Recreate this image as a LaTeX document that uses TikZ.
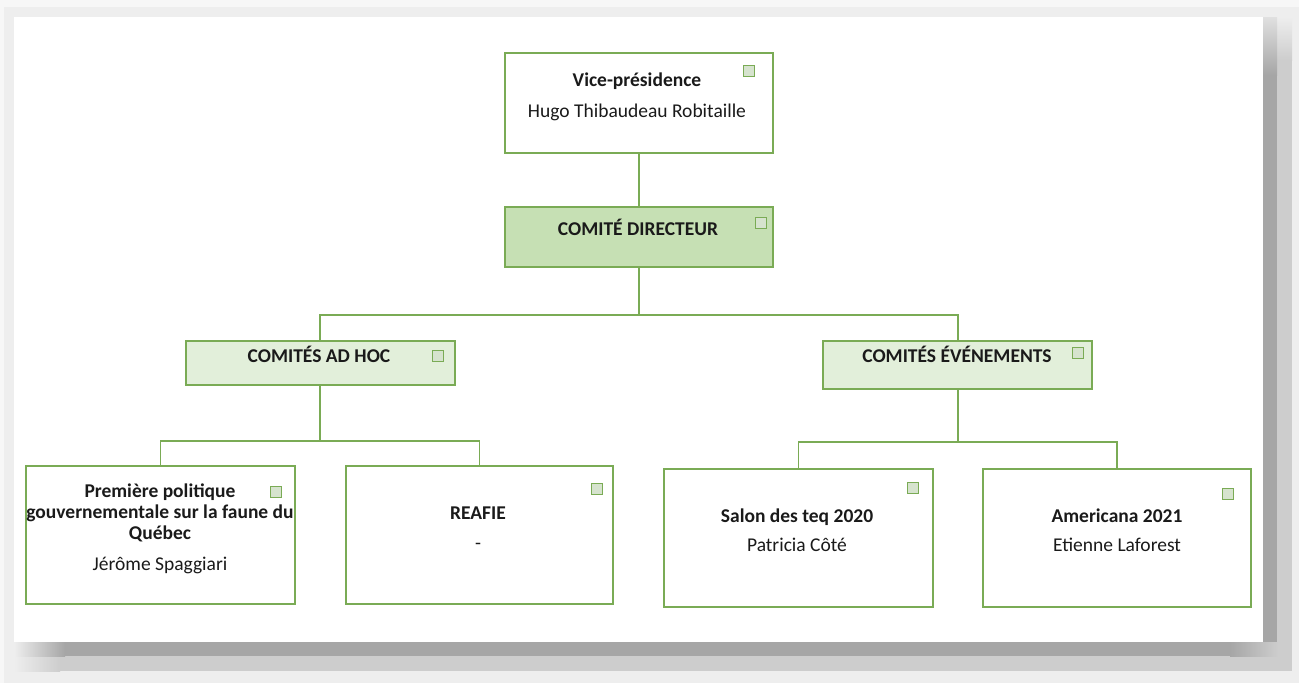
\documentclass[tikz,border=0pt]{standalone}
\usepackage{fontspec}
\setmainfont{Carlito}
\definecolor{gline}{HTML}{7AAB55}
\definecolor{gdark}{HTML}{C6E0B4}
\definecolor{glight}{HTML}{E2EFDA}
\definecolor{gsq}{HTML}{D6E3CE}
\definecolor{txt}{HTML}{1A1A1A}
\definecolor{sA}{HTML}{A6A6A6}
\definecolor{sB}{HTML}{CDCDCD}
\definecolor{sC}{HTML}{EEEEEE}
\definecolor{sD}{HTML}{F7F7F7}
\begin{document}
\begin{tikzpicture}[x=1pt,y=-1pt,
  box/.style={draw=gline,line width=1.3pt,inner sep=0pt,outer sep=0pt,anchor=north west},
  sq/.style={draw=gline,line width=1pt,fill=gsq,minimum size=11pt,inner sep=0pt,anchor=north west},
  conn/.style={draw=gline,line width=1.6pt},
  lbl/.style={text=txt,font=\fontsize{19.5}{21}\selectfont,align=center,inner sep=0pt,anchor=base},
  ttl/.style={lbl,font=\bfseries\fontsize{19.5}{21}\selectfont}]
% background and frame shadow
\fill[sD] (0,0) rectangle (1299,683);
\fill[sC] (4,7) rectangle (1299,683);
% right shadow
\shade[top color=sC,bottom color=sB] (1277,17) rectangle (1292,60);
\fill[sB] (1277,60) rectangle (1292,671);
\shade[top color=white!88!black,bottom color=sA] (1263,17) rectangle (1277,75);
\fill[sA] (1263,75) rectangle (1277,656);
% bottom shadow
\shade[left color=sC,right color=sB] (14,656) rectangle (60,671);
\fill[sB] (60,656) rectangle (1277,671);
\shade[left color=sC,right color=sA] (14,642) rectangle (65,656);
\fill[sA] (65,642) rectangle (1263,656);
\shade[left color=sA,right color=white!80!black] (1230,642) rectangle (1277,656);
\fill[white] (14,17) rectangle (1263,642);
% boxes
\node[box,fill=white,minimum width=268pt,minimum height=100pt] (vp) at (505,53) {};
\node[box,fill=gdark,minimum width=268pt,minimum height=60pt] (cd) at (505,207) {};
\node[box,fill=glight,minimum width=269pt,minimum height=44pt] (adhoc) at (186,341) {};
\node[box,fill=glight,minimum width=269pt,minimum height=48pt] (evt) at (823,341) {};
\node[box,fill=white,minimum width=269pt,minimum height=138pt] (pp) at (26,466) {};
\node[box,fill=white,minimum width=267pt,minimum height=138pt] (rea) at (346,466) {};
\node[box,fill=white,minimum width=269pt,minimum height=138pt] (sal) at (664,469) {};
\node[box,fill=white,minimum width=268pt,minimum height=138pt] (ame) at (983,469) {};
% small squares
\node[sq] (vpq) at (743,65) {};
\node[sq] (cdq) at (755,217) {};
\node[sq] (adq) at (432,350) {};
\node[sq] (evq) at (1072,347) {};
\node[sq] (ppq) at (270,486) {};
\node[sq] (req) at (591,483) {};
\node[sq] (saq) at (907,482) {};
\node[sq] (amq) at (1222,488) {};
% texts
\node[ttl] (t1) at (637,86) {Vice-présidence};
\node[lbl] (t2) at (637,117) {Hugo Thibaudeau Robitaille};
\node[ttl] (t3) at (638,235) {COMITÉ DIRECTEUR};
\node[ttl] (t4) at (319,362) {COMITÉS AD HOC};
\node[ttl] (t5) at (957,362) {COMITÉS ÉVÉNEMENTS};
\node[ttl] (t6a) at (160,497) {Première politique};
\node[ttl] (t6b) at (160,518) {gouvernementale sur la faune du};
\node[ttl] (t6c) at (160,539) {Québec};
\node[lbl] (t7) at (160,570) {Jérôme Spaggiari};
\node[ttl] (t8) at (478,519) {REAFIE};
\node[lbl] (t9) at (478,549) {-};
\node[ttl] (t10) at (797,522) {Salon des teq 2020};
\node[lbl] (t11) at (797,551) {Patricia Côté};
\node[ttl] (t12) at (1117,522) {Americana 2021};
\node[lbl] (t13) at (1117,551) {Etienne Laforest};
% connectors
\coordinate (j1) at (639,315);
\coordinate (j2) at (320,441);
\coordinate (j3) at (958,442);
\draw[conn] (vp.south -| j1) -- (cd.north -| j1);
\draw[conn] (cd.south -| j1) -- (j1);
\draw[conn] (adhoc.north -| j2) |- (j1) -| (evt.north -| j3);
\draw[conn] (adhoc.south -| j2) -- (j2);
\draw[conn] (pp.north) |- (j2) -| (rea.north);
\draw[conn] (evt.south -| j3) -- (j3);
\draw[conn] (sal.north) |- (j3) -| (ame.north);
\end{tikzpicture}
\end{document}
